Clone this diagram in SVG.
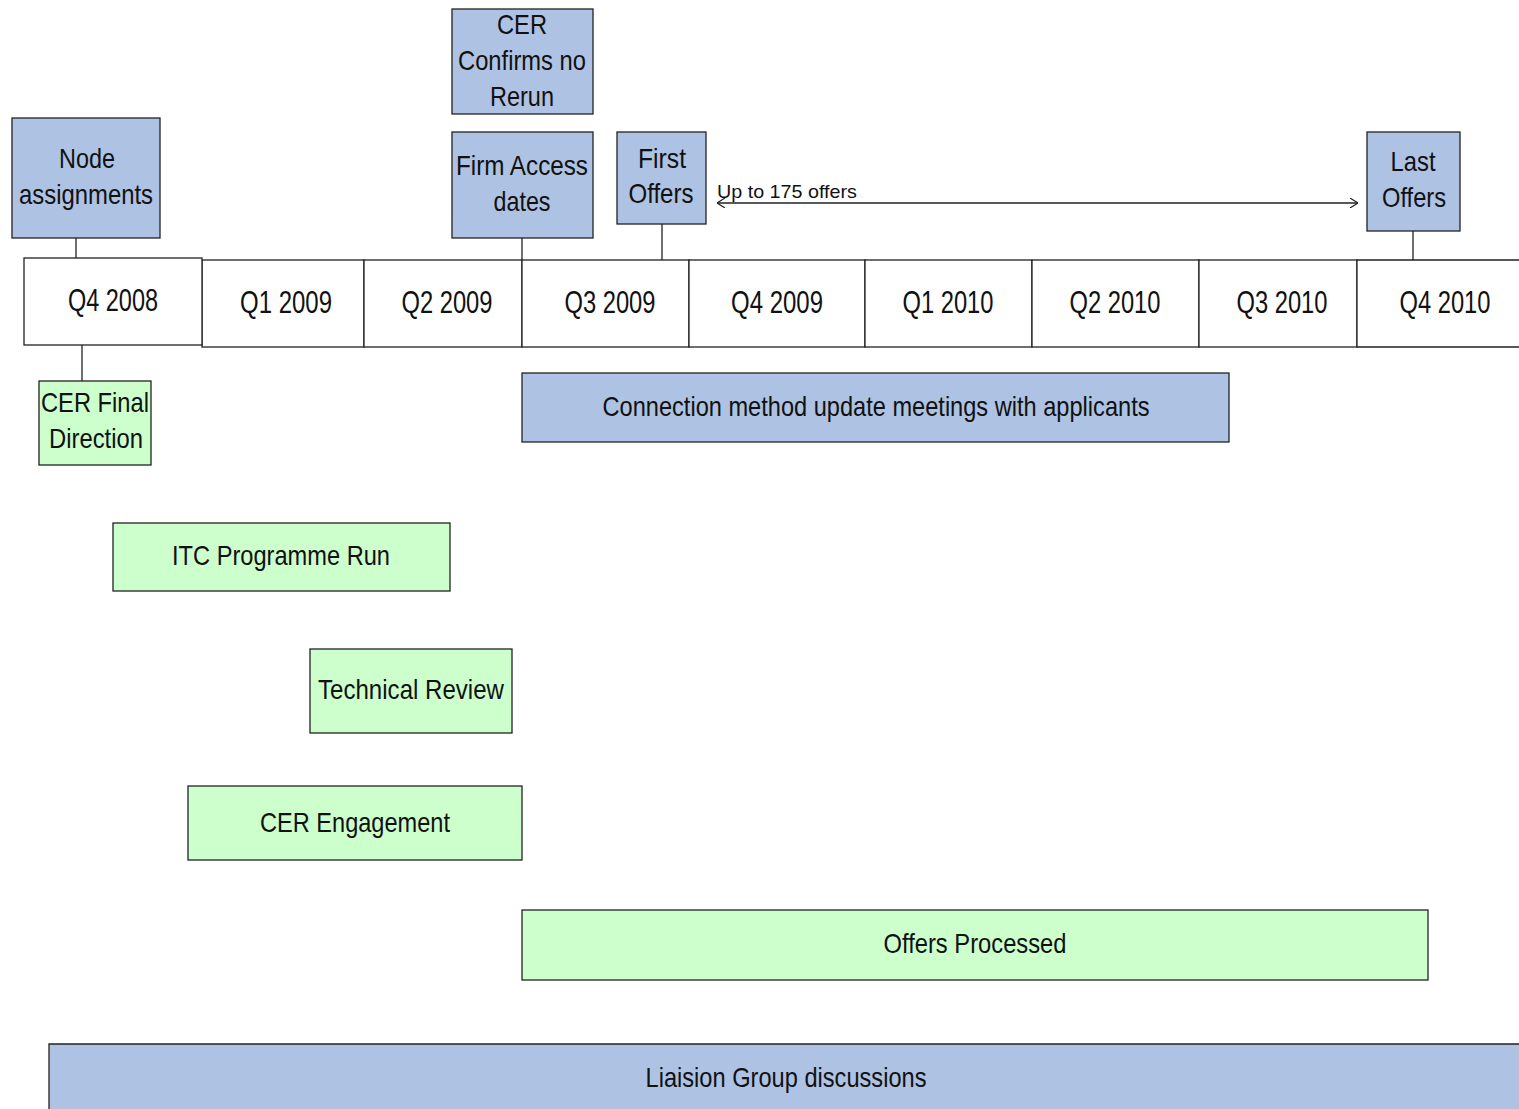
<svg xmlns="http://www.w3.org/2000/svg" width="1519" height="1109" viewBox="0 0 1519 1109">
<style>
.b{fill:#aec3e3;stroke:#222;stroke-width:1.3}
.g{fill:#ccffcc;stroke:#222;stroke-width:1.3}
.w{fill:#fff;stroke:#222;stroke-width:1.3}
text{font-family:"Liberation Sans",Arial,sans-serif;fill:#111;text-anchor:middle}
.t{font-size:28px}
.q{font-size:32px}
.s{font-size:19px;text-anchor:start}
.c{stroke:#222;stroke-width:1.3;fill:none}
</style>
<defs>
<marker id="ah" viewBox="0 0 10 10" refX="10" refY="5" markerWidth="10" markerHeight="10" markerUnits="userSpaceOnUse" orient="auto-start-reverse">
<polyline points="2,0 10,5 2,10" fill="none" stroke="#222" stroke-width="1.2"/>
</marker>
</defs>
<rect width="1519" height="1109" fill="#fff"/>
<g id="connectors">
<line class="c" x1="76" y1="238" x2="76" y2="258"/>
<line class="c" x1="82" y1="345" x2="82" y2="381"/>
<line class="c" x1="522" y1="238" x2="522" y2="260"/>
<line class="c" x1="662" y1="224" x2="662" y2="260"/>
<line class="c" x1="1413" y1="231" x2="1413" y2="260"/>
<line class="c" x1="717" y1="203" x2="1358" y2="203" marker-start="url(#ah)" marker-end="url(#ah)"/>
<text class="s" x="717" y="198" textLength="140" lengthAdjust="spacingAndGlyphs">Up to 175 offers</text>
</g>
<g id="timeline">
<rect class="w" x="202" y="260" width="162" height="87"/>
<rect class="w" x="364" y="260" width="158" height="87"/>
<rect class="w" x="522" y="260" width="167" height="87"/>
<rect class="w" x="689" y="260" width="176" height="87"/>
<rect class="w" x="865" y="260" width="167" height="87"/>
<rect class="w" x="1032" y="260" width="167" height="87"/>
<rect class="w" x="1199" y="260" width="158" height="87"/>
<path class="w" d="M1519,260 H1357 V347 H1519"/>
<rect class="w" x="24" y="258" width="178" height="87"/>
<text class="q" x="113" y="311" textLength="90" lengthAdjust="spacingAndGlyphs">Q4 2008</text>
<text class="q" x="286" y="313" textLength="92" lengthAdjust="spacingAndGlyphs">Q1 2009</text>
<text class="q" x="447" y="313" textLength="91" lengthAdjust="spacingAndGlyphs">Q2 2009</text>
<text class="q" x="610" y="313" textLength="91" lengthAdjust="spacingAndGlyphs">Q3 2009</text>
<text class="q" x="777" y="313" textLength="92" lengthAdjust="spacingAndGlyphs">Q4 2009</text>
<text class="q" x="948" y="313" textLength="91" lengthAdjust="spacingAndGlyphs">Q1 2010</text>
<text class="q" x="1115" y="313" textLength="91" lengthAdjust="spacingAndGlyphs">Q2 2010</text>
<text class="q" x="1282" y="313" textLength="91" lengthAdjust="spacingAndGlyphs">Q3 2010</text>
<text class="q" x="1445" y="313" textLength="91" lengthAdjust="spacingAndGlyphs">Q4 2010</text>
</g>
<g id="node-assignments">
<rect class="b" x="12" y="118" width="148" height="120"/>
<text class="t" x="87" y="168" textLength="56" lengthAdjust="spacingAndGlyphs">Node</text>
<text class="t" x="86" y="204" textLength="134" lengthAdjust="spacingAndGlyphs">assignments</text>
</g>
<g id="cer-confirms">
<rect class="b" x="452" y="9" width="141" height="105"/>
<text class="t" x="522" y="34" textLength="50" lengthAdjust="spacingAndGlyphs">CER</text>
<text class="t" x="522" y="70" textLength="128" lengthAdjust="spacingAndGlyphs">Confirms no</text>
<text class="t" x="522" y="106" textLength="64" lengthAdjust="spacingAndGlyphs">Rerun</text>
</g>
<g id="firm-access">
<rect class="b" x="452" y="132" width="141" height="106"/>
<text class="t" x="522" y="175" textLength="132" lengthAdjust="spacingAndGlyphs">Firm Access</text>
<text class="t" x="522" y="211" textLength="57" lengthAdjust="spacingAndGlyphs">dates</text>
</g>
<g id="first-offers">
<rect class="b" x="617" y="132" width="89" height="92"/>
<text class="t" x="662" y="168" textLength="48" lengthAdjust="spacingAndGlyphs">First</text>
<text class="t" x="661" y="203" textLength="65" lengthAdjust="spacingAndGlyphs">Offers</text>
</g>
<g id="last-offers">
<rect class="b" x="1367" y="132" width="93" height="99"/>
<text class="t" x="1413" y="171" textLength="45" lengthAdjust="spacingAndGlyphs">Last</text>
<text class="t" x="1414" y="207" textLength="64" lengthAdjust="spacingAndGlyphs">Offers</text>
</g>
<g id="cer-final">
<rect class="g" x="39" y="381" width="112" height="84"/>
<text class="t" x="95" y="412" textLength="108" lengthAdjust="spacingAndGlyphs">CER Final</text>
<text class="t" x="96" y="448" textLength="94" lengthAdjust="spacingAndGlyphs">Direction</text>
</g>
<g id="connection-method">
<rect class="b" x="522" y="373" width="707" height="69"/>
<text class="t" x="876" y="416" textLength="547" lengthAdjust="spacingAndGlyphs">Connection method update meetings with applicants</text>
</g>
<g id="itc-programme">
<rect class="g" x="113" y="523" width="337" height="68"/>
<text class="t" x="281" y="565" textLength="218" lengthAdjust="spacingAndGlyphs">ITC Programme Run</text>
</g>
<g id="technical-review">
<rect class="g" x="310" y="649" width="202" height="84"/>
<text class="t" x="411" y="699" textLength="186" lengthAdjust="spacingAndGlyphs">Technical Review</text>
</g>
<g id="cer-engagement">
<rect class="g" x="188" y="786" width="334" height="74"/>
<text class="t" x="355" y="832" textLength="190" lengthAdjust="spacingAndGlyphs">CER Engagement</text>
</g>
<g id="offers-processed">
<rect class="g" x="522" y="910" width="906" height="70"/>
<text class="t" x="975" y="953" textLength="183" lengthAdjust="spacingAndGlyphs">Offers Processed</text>
</g>
<g id="liaision">
<rect x="49" y="1044" width="1470" height="65" fill="#aec3e3"/>
<path class="c" d="M1519,1044 H49 V1109"/>
<text class="t" x="786" y="1087" textLength="281" lengthAdjust="spacingAndGlyphs">Liaision Group discussions</text>
</g>
</svg>
